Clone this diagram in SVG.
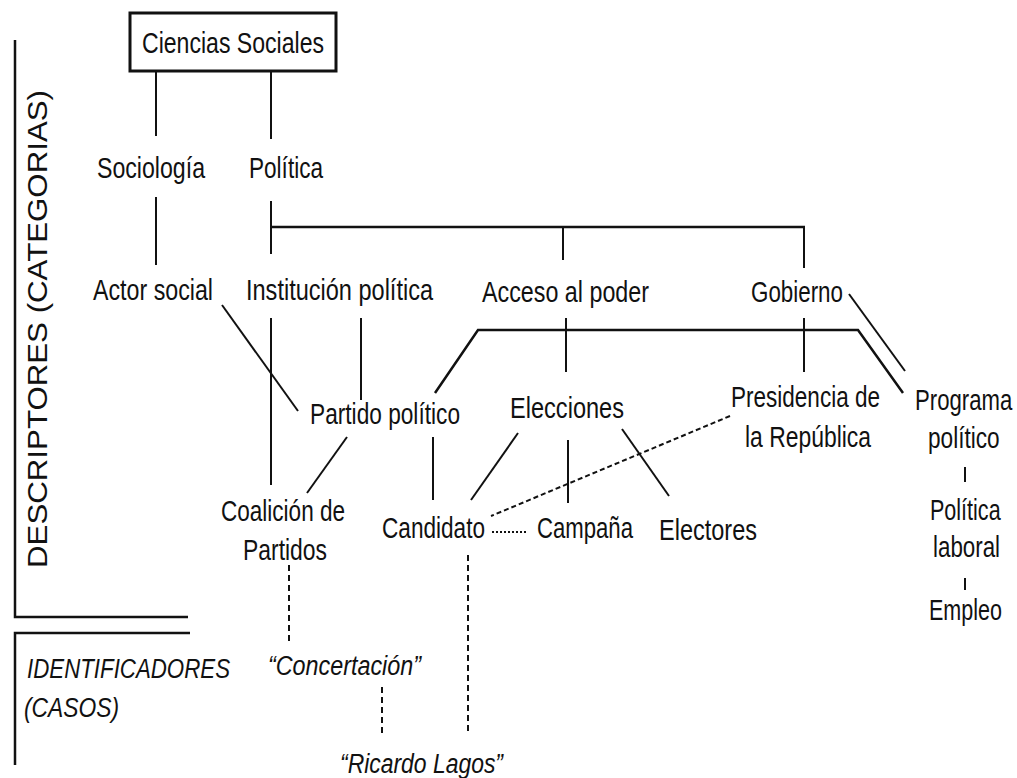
<svg xmlns="http://www.w3.org/2000/svg" width="1017" height="778" viewBox="0 0 1017 778">
<style>
.t{font-family:"Liberation Sans",Arial,sans-serif;font-size:29px;fill:#111}
.i{font-style:italic;font-size:27px}
.c line,.c polyline{stroke:#111;stroke-width:2;fill:none}
.c .d{stroke-dasharray:6 4}
.c .p{stroke-dasharray:5 3}
.c .o{stroke-dasharray:2 2}
.f{stroke:#111;stroke-width:2.5;fill:none}
</style>
<rect width="1017" height="778" fill="#fff"/>
<g id="frame">
<polyline class="f" points="15,40 15,617 188,617"/>
<polyline class="f" points="190,633 15,633 15,765"/>
<text class="t" transform="translate(47,568) rotate(-90)" textLength="478" lengthAdjust="spacingAndGlyphs" style="font-size:28px">DESCRIPTORES (CATEGORIAS)</text>
<text class="t i" x="27" y="678" textLength="203" lengthAdjust="spacingAndGlyphs">IDENTIFICADORES</text>
<text class="t i" x="24" y="717" textLength="95" lengthAdjust="spacingAndGlyphs">(CASOS)</text>
</g>
<g class="c" id="connectors">
<line x1="156" y1="71" x2="156" y2="136"/>
<line x1="156" y1="197" x2="156" y2="265"/>
<line x1="271" y1="71" x2="271" y2="139"/>
<line x1="271" y1="201" x2="271" y2="254"/>
<line x1="271" y1="227" x2="805" y2="227" style="stroke-width:2.5"/>
<line x1="563" y1="227" x2="563" y2="260"/>
<line x1="804" y1="227" x2="804" y2="268"/>
<line x1="271" y1="318" x2="271" y2="485"/>
<line x1="222" y1="305" x2="298" y2="411"/>
<line x1="361" y1="318" x2="361" y2="400"/>
<line x1="347" y1="437" x2="307" y2="493"/>
<line x1="433" y1="437" x2="433" y2="500"/>
<polyline points="435,393 478,330 858,330 903,393" style="stroke-width:2.5"/>
<line x1="566" y1="318" x2="566" y2="372"/>
<line x1="804" y1="318" x2="804" y2="372"/>
<line x1="849" y1="294" x2="905" y2="371"/>
<line x1="518" y1="433" x2="471" y2="500"/>
<line x1="568" y1="440" x2="568" y2="503"/>
<line x1="622" y1="429" x2="669" y2="496"/>
<line class="p" x1="730" y1="416" x2="491" y2="516"/>
<line class="o" x1="492" y1="532" x2="528" y2="532"/>
<line x1="965" y1="467" x2="965" y2="482"/>
<line x1="965" y1="578" x2="965" y2="590"/>
<line class="d" x1="289" y1="565" x2="289" y2="643"/>
<line class="d" x1="382" y1="687" x2="382" y2="733"/>
<line class="d" x1="468" y1="555" x2="468" y2="733"/>
</g>
<g id="ciencias-sociales">
<rect x="130" y="13" width="206" height="58" fill="none" stroke="#111" stroke-width="3"/>
<text class="t" x="142" y="53" textLength="182" lengthAdjust="spacingAndGlyphs" style="font-size:30px">Ciencias Sociales</text>
</g>
<g id="sociologia"><text class="t" x="97" y="178" textLength="108" lengthAdjust="spacingAndGlyphs">Sociología</text></g>
<g id="politica"><text class="t" x="249" y="178" textLength="74" lengthAdjust="spacingAndGlyphs">Política</text></g>
<g id="actor-social"><text class="t" x="93" y="300" textLength="120" lengthAdjust="spacingAndGlyphs">Actor social</text></g>
<g id="institucion-politica"><text class="t" x="246" y="300" textLength="187" lengthAdjust="spacingAndGlyphs">Institución política</text></g>
<g id="acceso-al-poder"><text class="t" x="482" y="302" textLength="167" lengthAdjust="spacingAndGlyphs">Acceso al poder</text></g>
<g id="gobierno"><text class="t" x="751" y="302" textLength="92" lengthAdjust="spacingAndGlyphs">Gobierno</text></g>
<g id="partido-politico"><text class="t" x="310" y="424" textLength="150" lengthAdjust="spacingAndGlyphs">Partido político</text></g>
<g id="elecciones"><text class="t" x="510" y="418" textLength="114" lengthAdjust="spacingAndGlyphs">Elecciones</text></g>
<g id="presidencia">
<text class="t" x="731" y="407" textLength="149" lengthAdjust="spacingAndGlyphs">Presidencia de</text>
<text class="t" x="745" y="447" textLength="126" lengthAdjust="spacingAndGlyphs">la República</text>
</g>
<g id="programa-politico">
<text class="t" transform="translate(915,410) scale(0.764,1)">Programa</text>
<text class="t" transform="translate(928,448) scale(0.78,1)">político</text>
</g>
<g id="politica-laboral">
<text class="t" transform="translate(930,520) scale(0.743,1)">Política</text>
<text class="t" transform="translate(933,557) scale(0.77,1)">laboral</text>
</g>
<g id="empleo"><text class="t" transform="translate(929,620) scale(0.743,1)">Empleo</text></g>
<g id="coalicion">
<text class="t" x="221" y="521" textLength="124" lengthAdjust="spacingAndGlyphs">Coalición de</text>
<text class="t" x="243" y="560" textLength="84" lengthAdjust="spacingAndGlyphs">Partidos</text>
</g>
<g id="candidato"><text class="t" x="382" y="538" textLength="103" lengthAdjust="spacingAndGlyphs">Candidato</text></g>
<g id="campana"><text class="t" x="537" y="538" textLength="96" lengthAdjust="spacingAndGlyphs">Campaña</text></g>
<g id="electores"><text class="t" x="659" y="540" textLength="98" lengthAdjust="spacingAndGlyphs">Electores</text></g>
<g id="concertacion"><text class="t i" x="268" y="675" textLength="153" lengthAdjust="spacingAndGlyphs">“Concertación”</text></g>
<g id="ricardo-lagos"><text class="t i" x="340" y="773" textLength="163" lengthAdjust="spacingAndGlyphs">“Ricardo Lagos”</text></g>
</svg>
